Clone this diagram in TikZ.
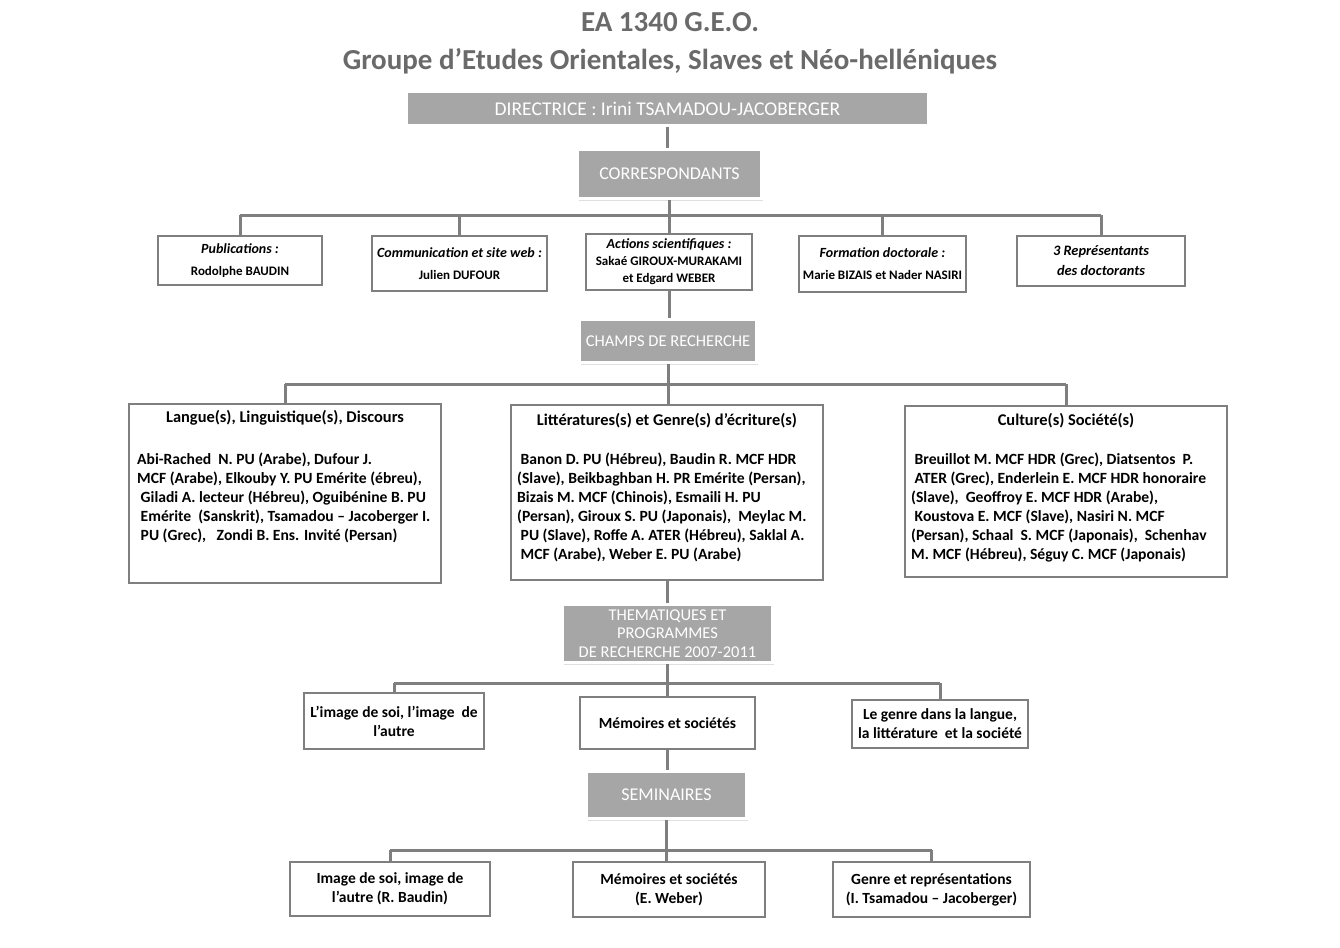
\documentclass[tikz,border=0pt]{standalone}
\usepackage{fontspec}
\setmainfont{Carlito}
\usetikzlibrary{shadows}
\definecolor{boxgray}{HTML}{A6A6A6}
\definecolor{linegray}{HTML}{7F7F7F}
\definecolor{titlegray}{HTML}{6A6A6A}
\begin{document}
\begin{tikzpicture}[x=1pt,y=-1pt]
            \tikzstyle{every node}+=[inner sep=0pt]
            \tikzstyle{head}=[font=\fontsize{29}{33}\selectfont\bfseries, text=titlegray]
            \tikzstyle{graybox}=[draw=white, line width=3pt, fill=boxgray, text=white, align=center, font=\fontsize{18}{19.5}\selectfont, drop shadow={shadow xshift=1.5pt, shadow yshift=-2pt, opacity=0.25}]
            \tikzstyle{whitebox}=[draw=linegray, line width=2.5pt, fill=white, align=center, font=\fontsize{15.5}{19}\selectfont\bfseries]
            \tikzstyle{corrbox}=[whitebox, font=\fontsize{14}{22}\selectfont\bfseries]
            \tikzstyle{fieldhead}=[font=\fontsize{16.4}{19}\selectfont\bfseries]
            \tikzstyle{fieldbody}=[align=left, anchor=north west, font=\fontsize{15.6}{19}\selectfont\bfseries]
            \tikzstyle{link}=[draw=linegray, line width=3pt]
            \useasboundingbox (0,0) rectangle (1340,947);
            \node [head] (title) at (670,22) {EA 1340 G.E.O.};
            \node [head] (subtitle) at (670,61) {Groupe d’Etudes Orientales, Slaves et Néo-helléniques};
            \node [graybox, minimum width=522pt, minimum height=34pt, font=\fontsize{19.5}{20}\selectfont] (dir) at (667.5,108.5) {DIRECTRICE : Irini TSAMADOU-JACOBERGER};
            \node [graybox, minimum width=184pt, minimum height=49pt] (corr) at (669.5,174) {CORRESPONDANTS};
            \node [corrbox, minimum width=164pt, minimum height=49pt] (pub) at (240,260.5) {{\itshape Publications :}\\{\fontsize{13}{14}\selectfont Rodolphe BAUDIN}};
            \node [corrbox, minimum width=175pt, minimum height=55pt] (com) at (459.5,263.5) {{\itshape Communication et site web :}\\{\fontsize{13}{14}\selectfont Julien DUFOUR}};
            \node [corrbox, minimum width=166pt, minimum height=56pt, font=\fontsize{13}{17}\selectfont\bfseries] (act) at (669,262) {{\fontsize{14}{17}\selectfont\itshape Actions scientifiques :}\\Sakaé GIROUX-MURAKAMI\\et Edgard WEBER};
            \node [corrbox, minimum width=167pt, minimum height=56pt] (form) at (882.5,264) {{\itshape Formation doctorale :}\\{\fontsize{13}{14}\selectfont Marie BIZAIS et Nader NASIRI}};
            \node [corrbox, minimum width=168pt, minimum height=50pt, font=\fontsize{14.4}{20}\selectfont\bfseries\itshape] (rep) at (1101,261) {3 Représentants\\des doctorants};
            \node [graybox, minimum width=177pt, minimum height=43pt, font=\fontsize{16.5}{19}\selectfont] (champ) at (668,341) {CHAMPS DE RECHERCHE};
            \node [whitebox, minimum width=312pt, minimum height=179pt] (lang) at (285,493.5) {};
            \node [fieldhead] (langhead) at (285,418) {Langue(s), Linguistique(s), Discours};
            \node [fieldbody] (langbody) at (137,453) {Abi-Rached~ N. PU (Arabe), Dufour J.\\ MCF (Arabe), Elkouby Y. PU Emérite (ébreu),\\ ~Giladi A. lecteur (Hébreu), Oguibénine B. PU\\ ~Emérite~ (Sanskrit), Tsamadou – Jacoberger I.\\ ~PU (Grec), ~ Zondi B. Ens. Invité (Persan)};
            \node [whitebox, minimum width=312pt, minimum height=175pt] (litt) at (667,492.5) {};
            \node [fieldhead] (litthead) at (667,421) {Littératures(s) et Genre(s) d’écriture(s)};
            \node [fieldbody] (littbody) at (517,453) {~Banon D. PU (Hébreu), Baudin R. MCF HDR\\(Slave), Beikbaghban H. PR Emérite (Persan),\\Bizais M. MCF (Chinois), Esmaili H. PU\\(Persan), Giroux S. PU (Japonais), ~Meylac M.\\ ~PU (Slave), Roffe A. ATER (Hébreu), Saklal A.\\ ~MCF (Arabe), Weber E. PU (Arabe)};
            \node [whitebox, minimum width=322pt, minimum height=171pt] (cult) at (1066,491.5) {};
            \node [fieldhead] (culthead) at (1066,421) {Culture(s) Société(s)};
            \node [fieldbody] (cultbody) at (911,453) {~Breuillot M. MCF HDR (Grec), Diatsentos~ P.\\ ~ATER (Grec), Enderlein E. MCF HDR honoraire\\(Slave), ~Geoffroy E. MCF HDR (Arabe),\\ ~Koustova E. MCF (Slave), Nasiri N. MCF\\(Persan), Schaal~ S. MCF (Japonais), ~Schenhav\\M. MCF (Hébreu), Séguy C. MCF (Japonais)};
            \node [graybox, minimum width=210pt, minimum height=58pt, font=\fontsize{16.5}{18.5}\selectfont] (them) at (667.5,633.5) {THEMATIQUES ET\\PROGRAMMES\\DE RECHERCHE 2007-2011};
            \node [whitebox, minimum width=180pt, minimum height=56pt] (img) at (394,721) {L’image de soi, l’image~ de\\l’autre};
            \node [whitebox, minimum width=175pt, minimum height=52pt] (mem) at (667.5,723) {Mémoires et sociétés};
            \node [whitebox, minimum width=176pt, minimum height=48pt] (gen) at (940,724) {Le genre dans la langue,\\la littérature~ et la société};
            \node [graybox, minimum width=160pt, minimum height=47pt] (sem) at (666.5,795) {SEMINAIRES};
            \node [whitebox, minimum width=200pt, minimum height=54pt] (simg) at (390,889) {Image de soi, image de\\l’autre (R. Baudin)};
            \node [whitebox, minimum width=192pt, minimum height=55pt] (smem) at (669,889.5) {Mémoires et sociétés\\(E. Weber)};
            \node [whitebox, minimum width=197pt, minimum height=55pt] (sgen) at (931.5,889.5) {Genre et représentations\\(I. Tsamadou – Jacoberger)};
            \coordinate (bus1) at (669,215);
            \coordinate (bus2) at (668,384);
            \coordinate (bus3) at (668,683);
            \coordinate (bus4) at (668,850);
            \draw [link] (dir.south) -- (dir.south |- corr.north);
            \draw [link] (corr.south) -- (corr.south |- act.north);
            \draw [link] (pub.north |- bus1) -- (rep.north |- bus1);
            \foreach \n in {pub,com,form,rep}
                \draw [link] (\n.north |- bus1) -- (\n.north);
            \draw [link] (act.south) -- (act.south |- champ.north);
            \draw [link] (champ.south) -- (champ.south |- litt.north);
            \draw [link] (lang.north |- bus2) -- (cult.north |- bus2);
            \foreach \n in {lang,cult}
                \draw [link] (\n.north |- bus2) -- (\n.north);
            \draw [link] (litt.south) -- (litt.south |- them.north);
            \draw [link] (them.south) -- (them.south |- mem.north);
            \draw [link] (img.north |- bus3) -- (gen.north |- bus3);
            \foreach \n in {img,gen}
                \draw [link] (\n.north |- bus3) -- (\n.north);
            \draw [link] (mem.south) -- (mem.south |- sem.north);
            \draw [link] (sem.south) -- (sem.south |- smem.north);
            \draw [link] (simg.north |- bus4) -- (sgen.north |- bus4);
            \foreach \n in {simg,sgen}
                \draw [link] (\n.north |- bus4) -- (\n.north);
        \end{tikzpicture}
\end{document}
